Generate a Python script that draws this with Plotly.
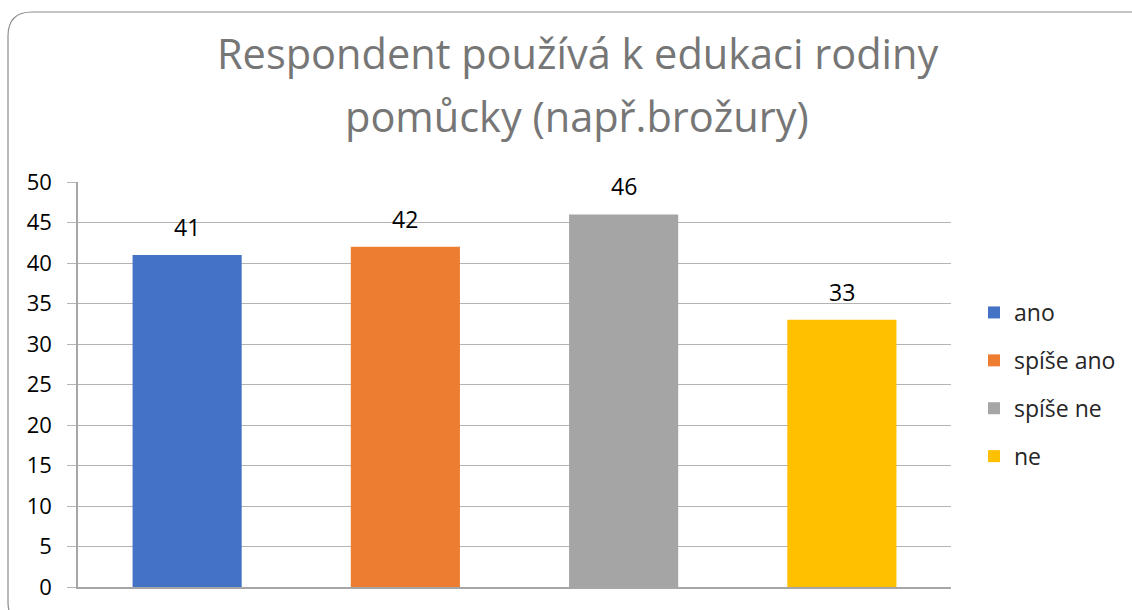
import plotly.graph_objects as go

categories = ["ano", "spíše ano", "spíše ne", "ne"]
values = [41, 42, 46, 33]
colors = ["#4472C4", "#ED7D31", "#A5A5A5", "#FFC000"]
title_lines = ["Respondent používá k edukaci rodiny", "pomůcky (např.brožury)"]
y_ticks = list(range(0, 51, 5))

W, H = 1132, 610
L, R, T, B = 78, 951, 182, 587  # plot area in pixels


def px_x(p):
    return (p - L) / (R - L)


def px_y(p):
    return (B - p) / (B - T)


FONT = "Open Sans"

fig = go.Figure()
for i, (c, v, col) in enumerate(zip(categories, values, colors)):
    fig.add_trace(go.Bar(
        x=[c], y=[v], name=c, marker=dict(color=col, line=dict(width=0)),
        width=0.5, legendgroup=c, showlegend=True, hoverinfo="x+y",
    ))
    fig.add_annotation(
        x=c, y=v, xref="x", yref="y", text=str(v), showarrow=False,
        yanchor="bottom", yshift=10,
        font=dict(family=FONT, size=23, color="#000000"),
    )

# title lines
for k, (line, ypx) in enumerate(zip(title_lines, [53, 116])):
    fig.add_annotation(
        x=px_x(577), y=px_y(ypx), xref="paper", yref="paper", text=line,
        showarrow=False, xanchor="center", yanchor="middle",
        font=dict(family=FONT, size=41.5, color="#767676"),
    )

# rounded border of the chart area (extends past the right/bottom edges)
x0, y0, x1, y1, r = 8, 12, 1155, 626, 24
def P(x, y):
    return f"{px_x(x):.5f},{px_y(y):.5f}"
path = (
    f"M {P(x0, y0 + r)} Q {P(x0, y0)} {P(x0 + r, y0)} "
    f"L {P(x1 - r, y0)} Q {P(x1, y0)} {P(x1, y0 + r)} "
    f"L {P(x1, y1 - r)} Q {P(x1, y1)} {P(x1 - r, y1)} "
    f"L {P(x0 + r, y1)} Q {P(x0, y1)} {P(x0, y1 - r)} Z"
)
fig.add_shape(type="path", path=path, xref="paper", yref="paper",
              line=dict(color="#8c8c8c", width=1.2), layer="above")

fig.update_layout(
    width=W, height=H,
    margin=dict(l=L, r=W - R, t=T, b=H - B, pad=0, autoexpand=False),
    paper_bgcolor="white", plot_bgcolor="white",
    barmode="overlay",
    showlegend=True,
    legend=dict(
        x=px_x(974), y=px_y(291), xanchor="left", yanchor="top",
        font=dict(family=FONT, size=23, color="#262626"),
        traceorder="grouped", tracegroupgap=15,
        bgcolor="rgba(0,0,0,0)",
    ),
    font=dict(family=FONT),
)
fig.update_xaxes(
    type="category", categoryarray=categories, showticklabels=False,
    showgrid=False, showline=True, linecolor="#a6a6a6", linewidth=1.5,
    ticks="", zeroline=False, range=[-0.5, 3.5], fixedrange=True,
    automargin=False,
)
fig.update_yaxes(
    range=[0, 50], tickvals=y_ticks, ticktext=[str(t) for t in y_ticks],
    showgrid=True, gridcolor="#b3b3b3", gridwidth=1,
    showline=True, linecolor="#a6a6a6", linewidth=1.5,
    ticks="outside", ticklen=9, tickcolor="#b3b3b3", tickwidth=1,
    ticklabelstandoff=11,
    tickfont=dict(family=FONT, size=22, color="#000000"),
    zeroline=False, fixedrange=True, automargin=False,
)

fig.write_html(
    "out.html",
    config={"displayModeBar": False},
    post_script="document.body.style.margin='0';document.body.style.overflow='hidden';",
)
